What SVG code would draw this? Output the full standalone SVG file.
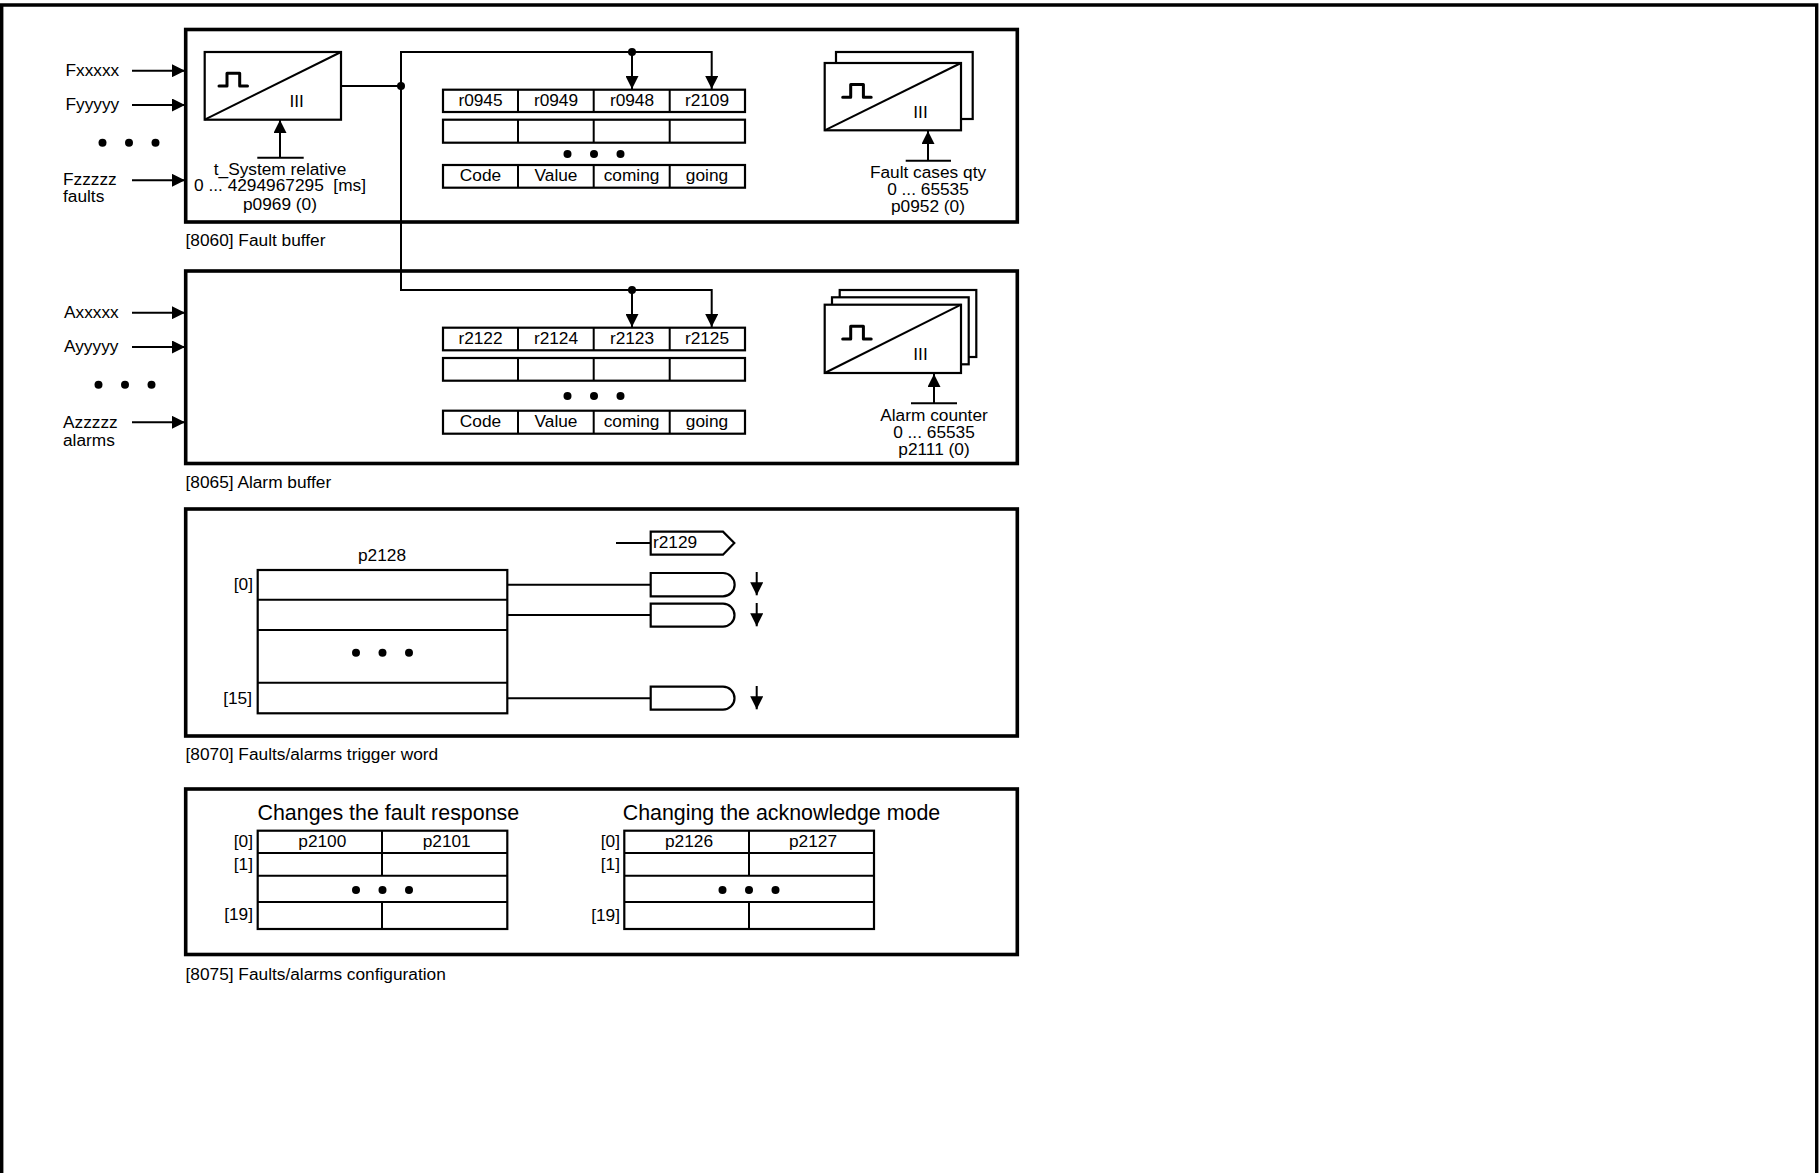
<svg xmlns="http://www.w3.org/2000/svg" width="1819" height="1173" viewBox="0 0 1819 1173">
<style>
text{font-family:"Liberation Sans",Arial,sans-serif;font-size:17.3px;fill:#000}
.m{text-anchor:middle}.e{text-anchor:end}
.t{font-size:21.4px}
.p{fill:#fff;stroke:#000;stroke-width:3.6}
.b{fill:#fff;stroke:#000;stroke-width:2.2}
.l{fill:none;stroke:#000;stroke-width:2}
.g{fill:none;stroke:#000;stroke-width:3;stroke-linejoin:round;stroke-linecap:round}
</style>
<defs>
<marker id="a" markerUnits="userSpaceOnUse" markerWidth="13" markerHeight="13" refX="13" refY="6.5" orient="auto"><path d="M0 0L13 6.5L0 13z"/></marker>
<g id="dots"><circle cx="-26.5" cy="0" r="4"/><circle cx="0" cy="0" r="4"/><circle cx="26.5" cy="0" r="4"/></g>
<path id="pulse" class="g" d="M0 0H8V-12.7H20.7V0H28.5"/>
</defs>
<rect width="1819" height="1173" fill="#fff"/>
<path id="outer" d="M1.7 1173V5H1816.7V1173" fill="none" stroke="#000" stroke-width="3.4"/>

<g id="panel-fault"><rect class="p" x="185.7" y="29.5" width="831.6" height="192.5"/></g>
<g id="panel-alarm"><rect class="p" x="185.7" y="271" width="831.6" height="192.5"/></g>
<g id="panel-trigger"><rect class="p" x="185.7" y="509" width="831.6" height="227"/></g>
<g id="panel-config"><rect class="p" x="185.7" y="789" width="831.6" height="165.5"/></g>

<g id="fault-inputs">
<text x="65.5" y="76">Fxxxxx</text><text x="65.5" y="110">Fyyyyy</text>
<use href="#dots" x="129" y="142.7"/>
<text x="63" y="185">Fzzzzz</text><text x="63" y="201.7">faults</text>
</g>
<g id="alarm-inputs">
<text x="64" y="318.3">Axxxxx</text><text x="64" y="352">Ayyyyy</text>
<use href="#dots" x="125" y="384.7"/>
<text x="63" y="428">Azzzzz</text><text x="63" y="445.7">alarms</text>
</g>

<g id="fault-trace">
<rect class="b" x="204.7" y="52" width="136.3" height="67.7"/>
<path class="l" d="M204.7 119.7L341 52"/>
<use href="#pulse" x="219" y="86"/>
<text class="m" x="296.7" y="106.5">III</text>
<path class="l" d="M257.3 157.7H303.7"/>
<text class="m" x="280" y="175">t_System relative</text>
<text class="m" x="280" y="191.3" xml:space="preserve">0 ... 4294967295  [ms]</text>
<text class="m" x="280" y="209.5">p0969 (0)</text>
</g>

<g id="fault-table">
<rect class="b" x="443" y="89.7" width="302" height="22.3"/>
<rect class="b" x="443" y="119.7" width="302" height="23"/>
<rect class="b" x="443" y="165" width="302" height="22.7"/>
<path class="l" d="M518 89.7V112M593.7 89.7V112M669.7 89.7V112M518 119.7V142.7M593.7 119.7V142.7M669.7 119.7V142.7M518 165V187.7M593.7 165V187.7M669.7 165V187.7"/>
<text class="m" x="480.5" y="106">r0945</text><text class="m" x="556" y="106">r0949</text><text class="m" x="632" y="106">r0948</text><text class="m" x="707" y="106">r2109</text>
<use href="#dots" x="594" y="154"/>
<text class="m" x="480.5" y="181">Code</text><text class="m" x="556" y="181">Value</text><text class="m" x="631.5" y="181">coming</text><text class="m" x="707" y="181">going</text>
</g>

<g id="fault-stack">
<rect class="b" x="836" y="52" width="136.7" height="67"/>
<rect class="b" x="824.7" y="63" width="136.3" height="67.3"/>
<path class="l" d="M824.7 130.3L961 63"/>
<use href="#pulse" x="842.7" y="97.3"/>
<text class="m" x="920.5" y="118">III</text>
<path class="l" d="M905.7 160.7H951"/>
<text class="m" x="928" y="178">Fault cases qty</text>
<text class="m" x="928" y="195">0 ... 65535</text>
<text class="m" x="928" y="212">p0952 (0)</text>
</g>

<g id="alarm-table">
<rect class="b" x="443" y="327.7" width="302" height="22.6"/>
<rect class="b" x="443" y="358" width="302" height="22.7"/>
<rect class="b" x="443" y="410.7" width="302" height="23"/>
<path class="l" d="M518 327.7V350.3M593.7 327.7V350.3M669.7 327.7V350.3M518 358V380.7M593.7 358V380.7M669.7 358V380.7M518 410.7V433.7M593.7 410.7V433.7M669.7 410.7V433.7"/>
<text class="m" x="480.5" y="344">r2122</text><text class="m" x="556" y="344">r2124</text><text class="m" x="632" y="344">r2123</text><text class="m" x="707" y="344">r2125</text>
<use href="#dots" x="594" y="396"/>
<text class="m" x="480.5" y="427">Code</text><text class="m" x="556" y="427">Value</text><text class="m" x="631.5" y="427">coming</text><text class="m" x="707" y="427">going</text>
</g>

<g id="alarm-stack">
<rect class="b" x="839.7" y="290" width="136.6" height="67"/>
<rect class="b" x="832" y="297.3" width="136.7" height="67"/>
<rect class="b" x="824.7" y="304.7" width="136.3" height="68.3"/>
<path class="l" d="M824.7 373L961 304.7"/>
<use href="#pulse" x="842.7" y="339"/>
<text class="m" x="920.5" y="360">III</text>
<path class="l" d="M911 403.3H957"/>
<text class="m" x="934" y="421">Alarm counter</text>
<text class="m" x="934" y="438">0 ... 65535</text>
<text class="m" x="934" y="455">p2111 (0)</text>
</g>

<g id="trigger-table">
<text class="m" x="382" y="560.7">p2128</text>
<rect class="b" x="257.7" y="570" width="249.6" height="143.3"/>
<path class="l" d="M257.7 599.7H507.3M257.7 630H507.3M257.7 682.7H507.3"/>
<text class="e" x="253" y="589.7">[0]</text><text class="e" x="252" y="704">[15]</text>
<use href="#dots" x="382.5" y="652.7"/>
</g>
<g id="r2129"><path class="b" d="M650.7 531.7H723L734.3 543L723 554.7H650.7Z"/><text x="653" y="547.5">r2129</text></g>
<g id="pill-0"><path class="b" d="M650.7 573H723A11.6 11.6 0 0 1 723 596.3H650.7Z"/></g>
<g id="pill-1"><path class="b" d="M650.7 603.7H723A11.5 11.5 0 0 1 723 626.7H650.7Z"/></g>
<g id="pill-15"><path class="b" d="M650.7 686.7H723A11.5 11.5 0 0 1 723 709.7H650.7Z"/></g>

<g id="config-left">
<text class="t" x="257.5" y="820">Changes the fault response</text>
<rect class="b" x="257.7" y="830.7" width="249.6" height="98.3"/>
<path class="l" d="M257.7 853H507.3M257.7 875.7H507.3M257.7 902H507.3M382 830.7V875.7M382 902V929"/>
<text class="m" x="322.3" y="846.7">p2100</text><text class="m" x="446.7" y="846.7">p2101</text>
<text class="e" x="253" y="846.5">[0]</text><text class="e" x="253" y="869.7">[1]</text><text class="e" x="253" y="919.5">[19]</text>
<use href="#dots" x="382.5" y="890"/>
</g>
<g id="config-right">
<text class="t" x="622.7" y="820">Changing the acknowledge mode</text>
<rect class="b" x="624.3" y="830.7" width="249.7" height="98.3"/>
<path class="l" d="M624.3 853H874M624.3 875.7H874M624.3 902H874M749 830.7V875.7M749 902V929"/>
<text class="m" x="689" y="846.7">p2126</text><text class="m" x="813" y="846.7">p2127</text>
<text class="e" x="620" y="846.5">[0]</text><text class="e" x="620" y="869.7">[1]</text><text class="e" x="620" y="920.5">[19]</text>
<use href="#dots" x="749" y="890"/>
</g>

<g id="captions">
<text x="185.5" y="246">[8060] Fault buffer</text>
<text x="185.5" y="488">[8065] Alarm buffer</text>
<text x="185.5" y="759.5">[8070] Faults/alarms trigger word</text>
<text x="185.5" y="979.5">[8075] Faults/alarms configuration</text>
</g>

<g id="connectors">
<path class="l" d="M132 70.7H185" marker-end="url(#a)"/>
<path class="l" d="M132 105H185" marker-end="url(#a)"/>
<path class="l" d="M132 180.3H185" marker-end="url(#a)"/>
<path class="l" d="M132 312.7H185" marker-end="url(#a)"/>
<path class="l" d="M132 347H185" marker-end="url(#a)"/>
<path class="l" d="M132 422.3H185" marker-end="url(#a)"/>
<path class="l" d="M280 157.7V120" marker-end="url(#a)"/>
<path class="l" d="M928 160.7V131" marker-end="url(#a)"/>
<path class="l" d="M934 403.3V374" marker-end="url(#a)"/>
<path class="l" d="M341 86H401"/>
<path class="l" d="M401 86V52H711.7V89" marker-end="url(#a)"/>
<path class="l" d="M632 52V89" marker-end="url(#a)"/>
<path class="l" d="M401 86V290H711.7V327" marker-end="url(#a)"/>
<path class="l" d="M632 290V327" marker-end="url(#a)"/>
<circle cx="401" cy="86" r="4"/><circle cx="632" cy="52" r="4"/><circle cx="632" cy="290" r="4"/>
<path class="l" d="M507.3 584.7H650.7M507.3 615H650.7M507.3 698.3H650.7M616 543H650.7"/>
<path class="l" d="M756.7 572V595.3" marker-end="url(#a)"/>
<path class="l" d="M756.7 603V626.3" marker-end="url(#a)"/>
<path class="l" d="M756.7 686V709.3" marker-end="url(#a)"/>
</g>
</svg>
